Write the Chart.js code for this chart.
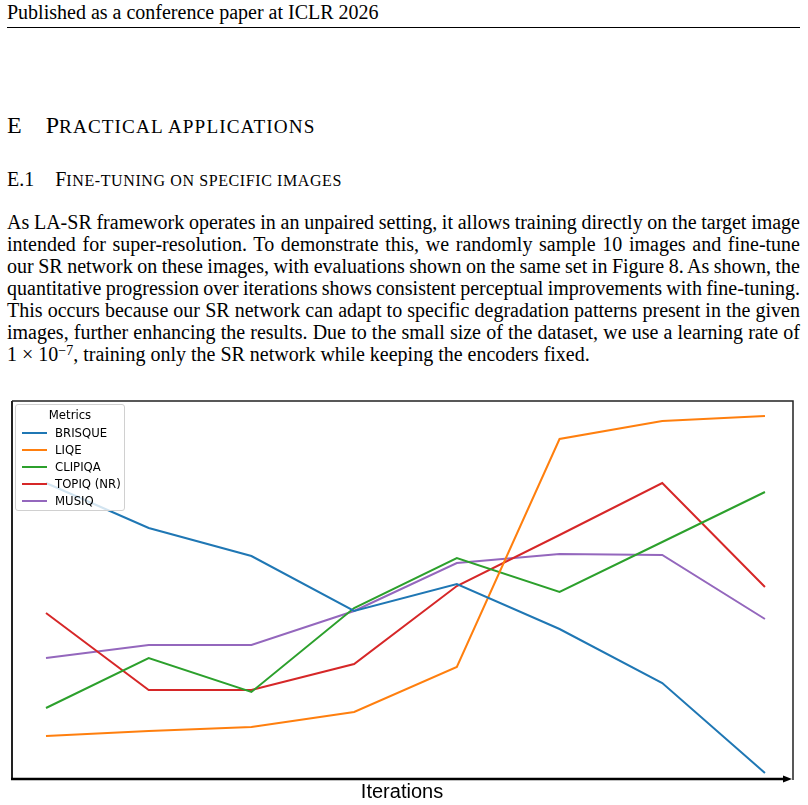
<!DOCTYPE html>
<html><head><meta charset="utf-8">
<script src="https://cdn.jsdelivr.net/npm/chart.js@4.4.1/dist/chart.umd.min.js"></script>
<style>
html,body{margin:0;padding:0;background:#fff;}
body{width:808px;height:805px;position:relative;overflow:hidden;font-family:"Liberation Serif","Times New Roman",serif;color:#000;}
.abs{position:absolute;white-space:nowrap;}
#hdr{left:7px;top:1px;font-size:20px;line-height:22px;}
#rule{position:absolute;left:7px;top:27px;width:793px;height:1px;background:#000;}
#sec{left:7px;top:113px;font-size:24px;line-height:24px;}
#sec .sc{letter-spacing:1.1px;}
#subsec{left:7px;top:169px;font-size:20px;line-height:20px;}
#subsec .sc{letter-spacing:0.6px;}
.sc{text-transform:uppercase;font-size:0.8em;}
#para{position:absolute;left:7px;top:211px;width:793px;font-size:20px;word-spacing:-3px;}
#para div{height:22px;line-height:22px;text-align:justify;text-align-last:justify;}
#para div.last{text-align-last:left;word-spacing:0;}
sup{font-size:14px;line-height:0;vertical-align:0.45em;}
#chart{position:absolute;left:0;top:395px;}
#legend{position:absolute;left:15px;top:404px;width:108px;height:105px;border:1px solid #d0d0d0;border-radius:3px;background:rgba(255,255,255,0.8);font-family:"DejaVu Sans",sans-serif;font-size:11.7px;color:#000;}
#legend .t{position:absolute;left:0;width:108px;text-align:center;top:1.5px;line-height:17px;}
#legend .row{position:absolute;left:0;width:108px;height:17px;line-height:17px;}
#legend .mk{position:absolute;left:6px;top:7.5px;width:25px;height:2px;}
#legend .lb{position:absolute;left:39px;top:0;}
#xlabel{position:absolute;left:302px;width:200px;text-align:center;top:781px;font-family:"Liberation Sans",Arial,sans-serif;font-size:20px;line-height:20px;}
</style>
</head><body>
<div id="hdr" class="abs">Published as a conference paper at ICLR 2026</div>
<div id="rule"></div>
<div id="sec" class="abs">E<span style="display:inline-block;width:24px"></span>P<span class="sc">ractical applications</span></div>
<div id="subsec" class="abs">E.1<span style="display:inline-block;width:21px"></span>F<span class="sc">ine-tuning on specific images</span></div>
<div id="para">
<div>As LA-SR framework operates in an unpaired setting, it allows training directly on the target image</div>
<div>intended for super-resolution. To demonstrate this, we randomly sample 10 images and fine-tune</div>
<div>our SR network on these images, with evaluations shown on the same set in Figure 8. As shown, the</div>
<div>quantitative progression over iterations shows consistent perceptual improvements with fine-tuning.</div>
<div>This occurs because our SR network can adapt to specific degradation patterns present in the given</div>
<div>images, further enhancing the results. Due to the small size of the dataset, we use a learning rate of</div>
<div class="last">1 × 10<sup>−7</sup>, training only the SR network while keeping the encoders fixed.</div>
</div>
<canvas id="chart" width="808" height="410"></canvas>
<div id="legend"></div>
<div id="xlabel">Iterations</div>
<script>
// Data (normalized metric score, arbitrary units; y axis unlabeled in the figure)
const iterations = [1, 2, 3, 4, 5, 6, 7, 8];
const metricNames = ["BRISQUE", "LIQE", "CLIPIQA", "TOPIQ (NR)", "MUSIQ"];
const brisque = [296, 251, 223, 168, 195, 150, 96, 6];
const liqe    = [43, 48, 52, 67, 112, 340, 358, 363];
const clipiqa = [71, 121, 87, 171, 221, 187, 237, 287];
const topiq   = [166, 89, 89, 115, 193, 244, 296, 192];
const musiq   = [121, 134, 134, 168, 216, 225, 224, 160];
const legendTitle = "Metrics";
const xTitle = "Iterations";

const seriesValues = [brisque, liqe, clipiqa, topiq, musiq];
const colors = ["#1f77b4", "#ff7f0e", "#2ca02c", "#d62728", "#9467bd"];

const datasets = metricNames.map((name, i) => ({
  label: name,
  data: iterations.map((x, j) => ({x: x, y: seriesValues[i][j]})),
  borderColor: colors[i],
  backgroundColor: colors[i],
  borderWidth: 2,
  pointRadius: 0,
  tension: 0,
  fill: false
}));

const framePlugin = {
  id: 'frame',
  afterDraw(chart) {
    const {ctx, chartArea: a} = chart;
    ctx.save();
    ctx.strokeStyle = '#222';
    ctx.lineWidth = 1.5;
    ctx.beginPath();
    ctx.moveTo(a.left, a.top);
    ctx.lineTo(a.right, a.top);
    ctx.lineTo(a.right, a.bottom + 1);
    ctx.stroke();
    ctx.lineWidth = 2;
    ctx.beginPath();
    ctx.moveTo(a.left, a.top);
    ctx.lineTo(a.left, a.bottom);
    ctx.stroke();
    ctx.strokeStyle = '#000';
    ctx.lineWidth = 2.5;
    ctx.beginPath();
    ctx.moveTo(a.left - 1, a.bottom);
    ctx.lineTo(a.right - 8, a.bottom);
    ctx.stroke();
    ctx.fillStyle = '#000';
    ctx.beginPath();
    ctx.moveTo(a.right - 1, a.bottom);
    ctx.lineTo(a.right - 10, a.bottom - 3.5);
    ctx.lineTo(a.right - 10, a.bottom + 3.5);
    ctx.closePath();
    ctx.fill();
    ctx.restore();
  }
};

new Chart(document.getElementById('chart'), {
  type: 'line',
  data: { datasets },
  options: {
    responsive: false,
    animation: false,
    layout: { padding: { left: 12, top: 6, right: 15, bottom: 26 } },
    plugins: { legend: { display: false }, tooltip: { enabled: false } },
    scales: {
      x: { type: 'linear', display: false, min: 0.669, max: 8.273, title: {display: false, text: xTitle} },
      y: { type: 'linear', display: false, min: 0, max: 378 }
    }
  },
  plugins: [framePlugin]
});

// HTML legend built from the series names/colors
const lg = document.getElementById('legend');
const t = document.createElement('div');
t.className = 't'; t.textContent = legendTitle; lg.appendChild(t);
metricNames.forEach((name, i) => {
  const r = document.createElement('div');
  r.className = 'row';
  r.style.top = (19.5 + i * 17) + 'px';
  const m = document.createElement('div');
  m.className = 'mk'; m.style.background = colors[i];
  const l = document.createElement('div');
  l.className = 'lb'; l.textContent = name;
  r.appendChild(m); r.appendChild(l); lg.appendChild(r);
});
</script>
</body></html>
